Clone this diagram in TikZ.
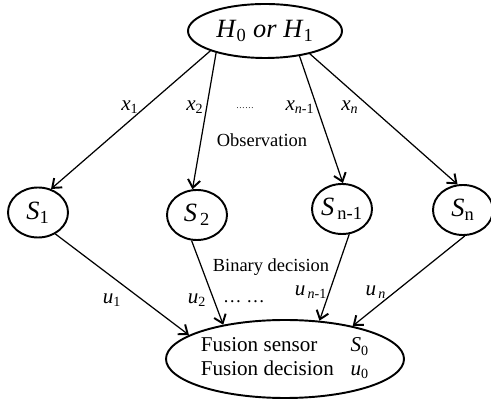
\documentclass[tikz,border=0pt]{standalone}
\usepackage{fontspec}
\setmainfont{Liberation Serif}
\usepackage{tikz}
\usetikzlibrary{arrows.meta,shapes.geometric}
\newcommand{\vsub}[2]{\textit{#1}\textsubscript{#2}}

\begin{document}
\begin{tikzpicture}[>={Straight Barb[length=4.5pt,width=7pt,line width=1.1pt]},font=\fontsize{10.5}{12}\selectfont,
          hyp/.style={draw,ellipse,line width=1.1pt,inner sep=0pt,minimum width=30.8mm,minimum height=10.8mm,font=\fontsize{15}{18}\selectfont},
          sen/.style={draw,ellipse,line width=1.1pt,inner sep=0pt,minimum width=12mm,minimum height=10mm,font=\fontsize{15}{18}\selectfont},
          fus/.style={draw,ellipse,line width=1.1pt,inner sep=0pt,minimum width=43mm,minimum height=15.6mm,font=\fontsize{12}{13.5}\selectfont},
          lbl/.style={font=\fontsize{12}{14}\selectfont},
          ln/.style={->,line width=0.7pt}]
        \useasboundingbox (0,0) rectangle (9.82,8.06);
        \node[hyp] (h) at (5.30,7.44) {\vsub{H}{0} \textit{or} \vsub{H}{1}};
        \node[sen] (s1) at (0.76,3.81) {\vsub{S}{1}};
        \node[sen] (s2) at (3.94,3.76) {\vsub{S}{\,2}};
        \node[sen] (sn1) at (6.84,3.88) {\vsub{S}{\,n-1}};
        \node[sen] (sn) at (9.26,3.86) {\vsub{S}{n}};
        \node[fus] (fs) at (5.70,0.88) {\begin{tabular}{@{}l@{\hspace{0.8em}}l@{}}Fusion sensor & \vsub{S}{0}\\Fusion decision & \vsub{u}{0}\end{tabular}};
        % observation
        \draw[ln] (h.-160) -- (s1.61);
        \draw[ln] (h.-156) -- (s2.100);
        \draw[ln] (h.-36) -- (sn1.88);
        \draw[ln] (h.-27) -- (sn.102);
        \node[lbl] (lx1) at (2.60,5.92) {\vsub{x}{1}};
        \node[lbl] (lx2) at (3.90,5.92) {\vsub{x}{2}};
        \node[font=\tiny] (ldx) at (4.90,5.90) {\dots\dots};
        \node[lbl] (lxn1) at (6.00,5.92) {\vsub{x}{\textit{n}-1}};
        \node[lbl] (lxn) at (7.00,5.92) {\vsub{x}{\textit{n}}};
        \node (obs) at (5.24,5.26) {Observation};
        % binary decision
        \draw[ln] (s1.-51) -- (fs.166);
        \draw[ln] (s2.-102) -- (fs.151);
        \draw[ln] (sn1.-74) -- (fs.48);
        \draw[ln] (sn.-86) -- (fs.26);
        \node[lbl] (lu1) at (2.24,2.06) {\vsub{u}{1}};
        \node[lbl] (lu2) at (3.94,2.06) {\vsub{u}{2}};
        \node (ldu) at (4.88,2.02) {\dots\ \dots};
        \node[lbl] (lun1) at (6.22,2.22) {\vsub{u}{\,\textit{n}-1}};
        \node[lbl] (lun) at (7.52,2.22) {\vsub{u}{\,\textit{n}}};
        \node (bin) at (5.42,2.72) {Binary decision};
      \end{tikzpicture}
\end{document}
